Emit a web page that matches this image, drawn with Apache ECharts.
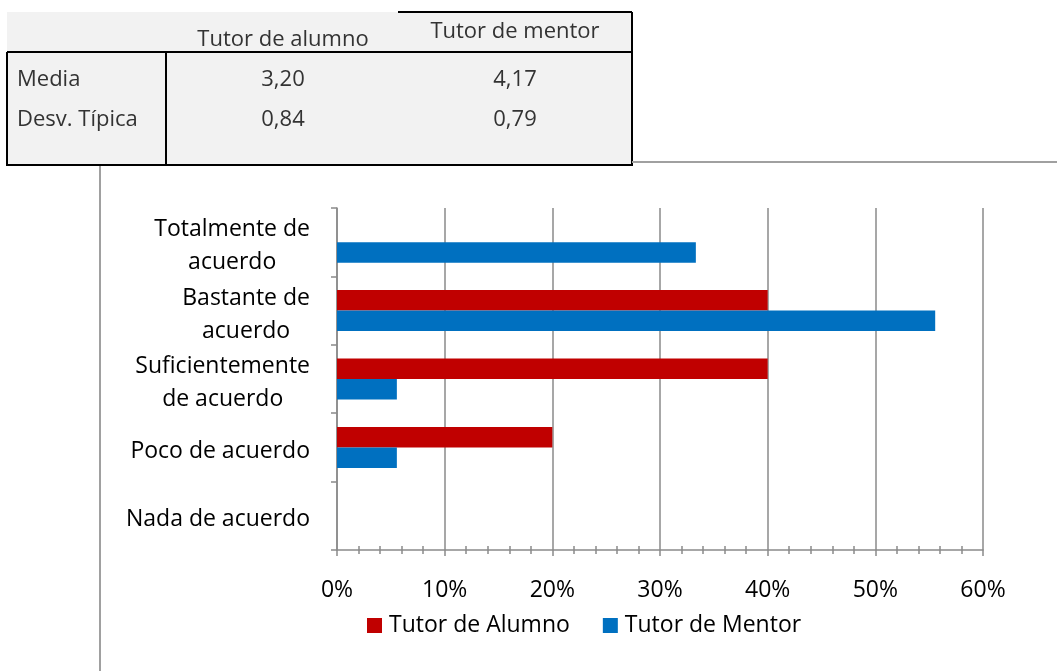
<!DOCTYPE html>
<html>
<head>
<meta charset="utf-8">
<script src="https://cdn.jsdelivr.net/npm/echarts@6/dist/echarts.min.js"></script>
<style>
  html, body { margin: 0; padding: 0; background: #fff; }
  #main { width: 1057px; height: 671px; }
</style>
</head>
<body>
<div id="main"></div>
<script>
// categories from bottom to top of the chart
const categories = ['Nada de acuerdo', 'Poco de acuerdo', 'Suficientemente\nde acuerdo', 'Bastante de\nacuerdo', 'Totalmente de\nacuerdo']
const alumno = [0, 20, 40, 40, 0]
const mentor = [0, 5.56, 5.56, 55.56, 33.33]
const seriesNames = ['Tutor de Alumno', 'Tutor de Mentor']

// summary table
const tableCols = ['Tutor de alumno', 'Tutor de mentor']
const tableRows = ['Media', 'Desv. Típica']
const tableValues = [['3,20', '4,17'], ['0,84', '0,79']]

const font = '"Open Sans", sans-serif'
const gridColor = '#8a8a8a'
const fs = 23

function line(x1, y1, x2, y2, color, width) {
  return { type: 'line', shape: { x1, y1, x2, y2 }, style: { stroke: color, lineWidth: width }, silent: true }
}
function text(str, x, y, align) {
  return {
    type: 'text',
    style: { text: str, x, y, align, verticalAlign: 'middle', font: '22px ' + font, fill: '#333' },
    silent: true,
  }
}

const colX = [283, 515]
const rowY = [80, 120]
const tableGraphics = [
  { type: 'rect', shape: { x: 7, y: 12, width: 625, height: 153 }, style: { fill: '#f2f2f2' }, silent: true },
  line(398, 12, 632, 12, '#000', 2),
  line(7, 52, 632, 52, '#000', 2),
  line(7, 52, 7, 165, '#000', 2),
  line(166, 52, 166, 165, '#000', 2),
  line(632, 12, 632, 165, '#000', 2),
  line(6, 165, 633, 165, '#000', 2),
  // chart frame
  line(632, 162, 1057, 162, '#a0a0a0', 2),
  line(100, 166, 100, 671, '#a0a0a0', 2),
  text(tableCols[0], colX[0], 40, 'center'),
  text(tableCols[1], colX[1], 32, 'center'),
]
tableRows.forEach((r, i) => {
  tableGraphics.push(text(r, 17, rowY[i], 'left'))
  tableValues[i].forEach((v, j) => tableGraphics.push(text(v, colX[j], rowY[i], 'center')))
})

const chart = echarts.init(document.getElementById('main'))

chart.setOption({
  animation: false,
  textStyle: { fontFamily: font },
  graphic: tableGraphics,
  legend: {
    data: seriesNames,
    left: 367,
    top: 614,
    padding: 0,
    icon: 'rect',
    itemWidth: 15,
    itemHeight: 15,
    itemGap: 33,
    textStyle: { fontSize: fs, color: '#000', fontFamily: font, padding: [0, 0, 0, 2] },
  },
  grid: { left: 337, right: 74, top: 208, bottom: 121, containLabel: false },
  xAxis: [{
    type: 'value',
    min: 0,
    max: 60,
    interval: 10,
    axisLine: { show: true, lineStyle: { color: gridColor, width: 1.5 } },
    axisTick: { show: true, length: 6, lineStyle: { color: gridColor, width: 1.5 } },
    minorTick: { show: true, splitNumber: 5, length: 4, lineStyle: { color: gridColor, width: 1.5 } },
    splitLine: { show: true, lineStyle: { color: gridColor, width: 1.5 } },
    axisLabel: { formatter: '{value}%', fontSize: fs, color: '#000', margin: 29, fontFamily: font },
  }, {
    type: 'value',
    position: 'bottom',
    min: 0,
    max: 60,
    interval: 10,
    axisLine: { show: false },
    axisTick: { show: false, inside: true },
    minorTick: { show: true, splitNumber: 5, length: 4, lineStyle: { color: gridColor, width: 1.5 } },
    splitLine: { show: false },
    axisLabel: { show: false },
  }],
  yAxis: {
    type: 'category',
    data: categories,
    axisLine: { show: true, lineStyle: { color: gridColor, width: 1.5 } },
    axisTick: { show: true, length: 6, lineStyle: { color: gridColor, width: 1.5 } },
    axisLabel: {
      interval: 0,
      showMinLabel: true,
      showMaxLabel: true,
      hideOverlap: false,
      margin: 27,
      color: '#000',
      fontSize: fs,
      fontFamily: font,
      lineHeight: 33,
      padding: [8, 0, 0, 0],
      formatter: v => v.split('\n').map(s => '{c|' + s + '}').join('\n'),
      rich: { c: { align: 'center', fontSize: fs, lineHeight: 33, color: '#000', fontFamily: font } },
    },
  },
  series: [{
    name: seriesNames[0],
    type: 'bar',
    data: alumno,
    barGap: '0%',
    barCategoryGap: '40%',
    itemStyle: { color: '#C00000' },
  }, {
    name: seriesNames[1],
    type: 'bar',
    data: mentor,
    barGap: '0%',
    barCategoryGap: '40%',
    itemStyle: { color: '#0070C0' },
  }],
})
</script>
</body>
</html>
